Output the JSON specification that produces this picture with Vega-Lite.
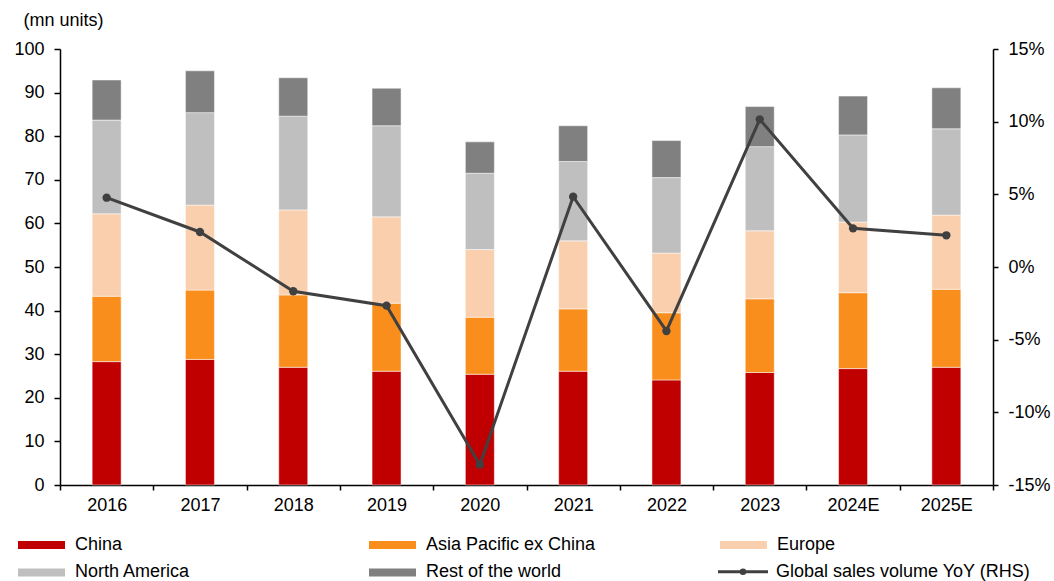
{
  "$schema": "https://vega.github.io/schema/vega-lite/v6.json",
  "autosize": "none",
  "width": 933,
  "height": 436,
  "padding": {"left": 60, "top": 49, "right": 61, "bottom": 96},
  "background": "white",
  "config": {
    "font": "Liberation Sans",
    "view": {"stroke": null},
    "axis": {"labelFont": "Liberation Sans", "labelFontSize": 18, "labelColor": "#000", "domainColor": "#000", "tickColor": "#000", "domainWidth": 1.5, "tickWidth": 1.5, "grid": false}
  },
  "datasets": {
    "regions": [
      {"year": "2016", "region": "China", "units": 28.3},
      {"year": "2016", "region": "Asia Pacific ex China", "units": 15.0},
      {"year": "2016", "region": "Europe", "units": 18.9},
      {"year": "2016", "region": "North America", "units": 21.5},
      {"year": "2016", "region": "Rest of the world", "units": 9.2},
      {"year": "2017", "region": "China", "units": 28.8},
      {"year": "2017", "region": "Asia Pacific ex China", "units": 15.9},
      {"year": "2017", "region": "Europe", "units": 19.5},
      {"year": "2017", "region": "North America", "units": 21.2},
      {"year": "2017", "region": "Rest of the world", "units": 9.6},
      {"year": "2018", "region": "China", "units": 27.0},
      {"year": "2018", "region": "Asia Pacific ex China", "units": 16.6},
      {"year": "2018", "region": "Europe", "units": 19.5},
      {"year": "2018", "region": "North America", "units": 21.5},
      {"year": "2018", "region": "Rest of the world", "units": 8.8},
      {"year": "2019", "region": "China", "units": 26.1},
      {"year": "2019", "region": "Asia Pacific ex China", "units": 15.6},
      {"year": "2019", "region": "Europe", "units": 19.8},
      {"year": "2019", "region": "North America", "units": 20.9},
      {"year": "2019", "region": "Rest of the world", "units": 8.6},
      {"year": "2020", "region": "China", "units": 25.4},
      {"year": "2020", "region": "Asia Pacific ex China", "units": 13.1},
      {"year": "2020", "region": "Europe", "units": 15.5},
      {"year": "2020", "region": "North America", "units": 17.5},
      {"year": "2020", "region": "Rest of the world", "units": 7.2},
      {"year": "2021", "region": "China", "units": 26.1},
      {"year": "2021", "region": "Asia Pacific ex China", "units": 14.3},
      {"year": "2021", "region": "Europe", "units": 15.6},
      {"year": "2021", "region": "North America", "units": 18.2},
      {"year": "2021", "region": "Rest of the world", "units": 8.2},
      {"year": "2022", "region": "China", "units": 24.1},
      {"year": "2022", "region": "Asia Pacific ex China", "units": 15.4},
      {"year": "2022", "region": "Europe", "units": 13.7},
      {"year": "2022", "region": "North America", "units": 17.3},
      {"year": "2022", "region": "Rest of the world", "units": 8.5},
      {"year": "2023", "region": "China", "units": 25.8},
      {"year": "2023", "region": "Asia Pacific ex China", "units": 16.9},
      {"year": "2023", "region": "Europe", "units": 15.6},
      {"year": "2023", "region": "North America", "units": 19.3},
      {"year": "2023", "region": "Rest of the world", "units": 9.2},
      {"year": "2024E", "region": "China", "units": 26.7},
      {"year": "2024E", "region": "Asia Pacific ex China", "units": 17.4},
      {"year": "2024E", "region": "Europe", "units": 16.2},
      {"year": "2024E", "region": "North America", "units": 20.0},
      {"year": "2024E", "region": "Rest of the world", "units": 8.9},
      {"year": "2025E", "region": "China", "units": 27.0},
      {"year": "2025E", "region": "Asia Pacific ex China", "units": 17.9},
      {"year": "2025E", "region": "Europe", "units": 17.0},
      {"year": "2025E", "region": "North America", "units": 19.8},
      {"year": "2025E", "region": "Rest of the world", "units": 9.4}
    ],
    "yoy": [
      {"year": "2016", "yoy": 0.0477},
      {"year": "2017", "yoy": 0.0241},
      {"year": "2018", "yoy": -0.0167},
      {"year": "2019", "yoy": -0.0266},
      {"year": "2020", "yoy": -0.136},
      {"year": "2021", "yoy": 0.0484},
      {"year": "2022", "yoy": -0.044},
      {"year": "2023", "yoy": 0.1016},
      {"year": "2024E", "yoy": 0.0266},
      {"year": "2025E", "yoy": 0.0218}
    ]
  },
  "layer": [
    {
      "data": {"name": "regions"},
      "transform": [
        {"calculate": "indexof(['China', 'Asia Pacific ex China', 'Europe', 'North America', 'Rest of the world'], datum.region)", "as": "stack_order"}
      ],
      "mark": {"type": "bar", "size": 29, "stroke": "white", "strokeWidth": 0.5},
      "encoding": {
        "x": {"field": "year", "type": "nominal", "sort": null, "scale": {"paddingInner": 0, "paddingOuter": 0},
          "axis": {"title": null, "labelAngle": 0, "tickBand": "extent", "tickSize": 5, "labelPadding": 6}},
        "y": {"field": "units", "type": "quantitative", "stack": "zero", "scale": {"domain": [0, 100], "nice": false},
          "axis": {"values": [0,10,20,30,40,50,60,70,80,90,100], "tickSize": 6, "labelPadding": 10,
            "title": "(mn units)", "titleAngle": 0, "titleAlign": "left", "titleBaseline": "alphabetic", "titleX": -37, "titleY": -24,
            "titleFont": "Liberation Sans", "titleFontSize": 18, "titleFontWeight": "normal", "titleColor": "#000"}},
        "order": {"field": "stack_order", "type": "quantitative", "sort": "ascending"},
        "color": {"field": "region", "type": "nominal",
          "scale": {"domain": ["China", "Asia Pacific ex China", "Europe", "North America", "Rest of the world"],
            "range": ["#C00000", "#F98E1D", "#F9CFAE", "#BFBFBF", "#808080"]},
          "legend": {"orient": "none", "legendX": -45, "legendY": 487, "direction": "horizontal", "columns": 3, "title": null,
            "symbolSize": 144, "labelFontSize": 18, "labelFont": "Liberation Sans", "labelColor": "#000", "labelOffset": 42,
            "columnPadding": 121, "rowPadding": 9.4, "gridAlign": "all", "labelLimit": 400, "padding": 0,
            "symbolType": "M-1,-0.667L6.833,-0.667L6.833,0.667L-1,0.667Z", "symbolStrokeWidth": 0}
        }
      }
    },
    {
      "data": {"name": "yoy"},
      "mark": {"type": "line", "strokeWidth": 3, "point": {"filled": true, "size": 70}},
      "encoding": {
        "x": {"field": "year", "type": "nominal", "sort": null},
        "y": {"field": "yoy", "type": "quantitative", "scale": {"domain": [-0.15, 0.15], "nice": false},
          "axis": {"orient": "right", "title": null, "values": [-0.15,-0.1,-0.05,0,0.05,0.1,0.15], "labelExpr": "round(datum.value*100) + '%'",
            "tickSize": 5, "labelPadding": 10}},
        "color": {"datum": "Global sales volume YoY (RHS)", "type": "nominal",
          "scale": {"domain": ["Global sales volume YoY (RHS)"], "range": ["#404040"]},
          "legend": {"orient": "none", "legendX": 655, "legendY": 513.7, "title": null,
            "symbolSize": 144, "labelFontSize": 18, "labelFont": "Liberation Sans", "labelColor": "#000", "labelOffset": 43,
            "labelLimit": 400, "padding": 0,
            "symbolType": "M-1,0L7.333,0 M2.867,0 A0.3,0.3 0 1,0 3.467,0 A0.3,0.3 0 1,0 2.867,0",
            "symbolStrokeWidth": 3, "symbolStrokeColor": "#404040", "symbolFillColor": "#404040"}
        }
      }
    }
  ],
  "resolve": {"scale": {"y": "independent", "color": "independent"}}
}
